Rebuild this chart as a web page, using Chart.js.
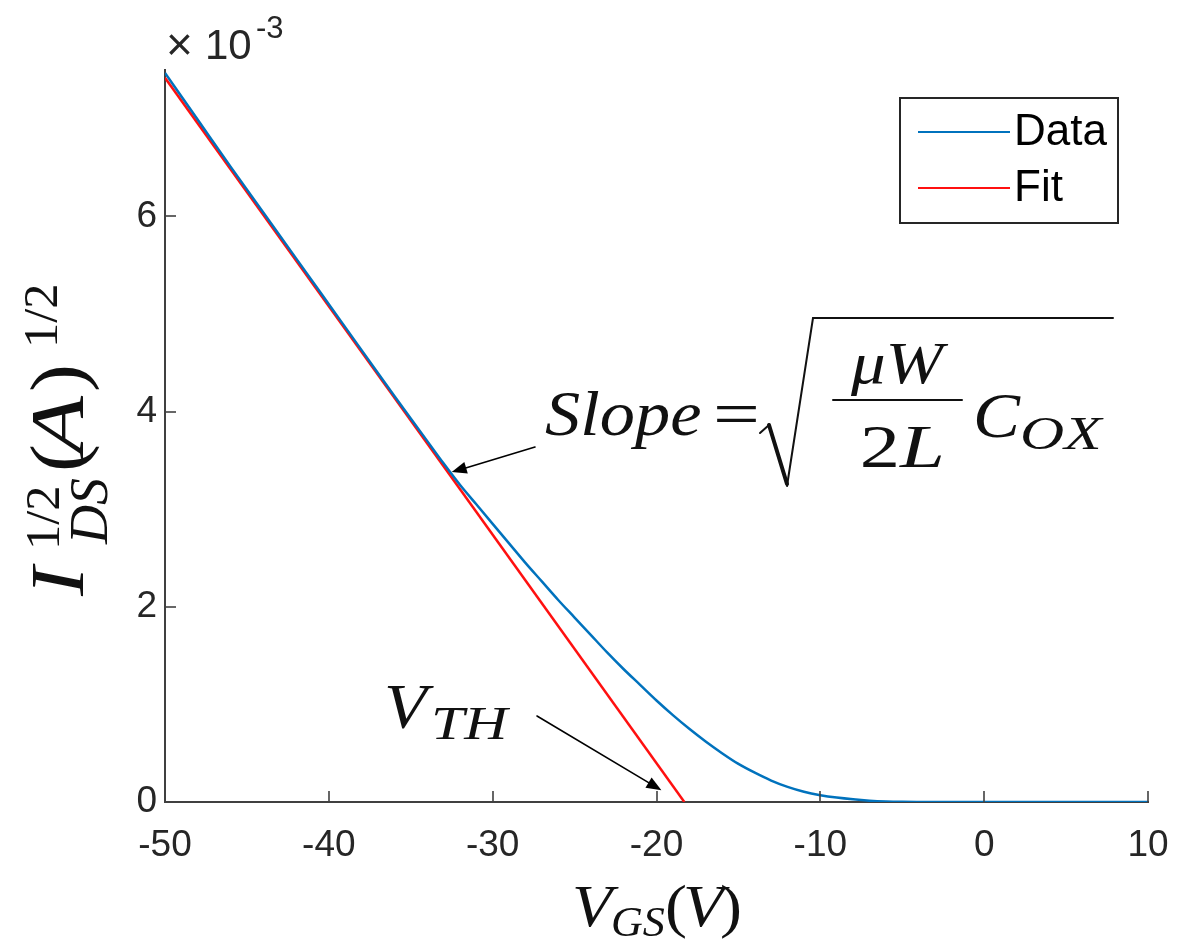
<!DOCTYPE html>
<html>
<head>
<meta charset="utf-8">
<script src="https://cdn.jsdelivr.net/npm/chart.js@4"></script>
<style>
  html, body { margin: 0; padding: 0; background: #fff; }
  #wrap { width: 1185px; height: 946px; }
</style>
</head>
<body>
<div id="wrap"><canvas id="vthChart" width="1185" height="946"></canvas></div>
<script>
// gate voltage (V) and sqrt(Ids) in units of 1e-3 A^(1/2)
const vgs = [-50, -48, -46, -44, -42, -40, -38, -36, -35, -34, -33, -32, -31, -30, -29, -28, -27, -26, -25,
  -24, -23, -22, -21, -20, -19, -18, -17, -16, -15, -14, -13, -12, -11, -10, -9, -8, -7, -6, -5, -4, -3, 0, 5, 10];
const sqrtIds = [7.47, 6.99, 6.51, 6.04, 5.57, 5.10, 4.63, 4.16, 3.93, 3.70, 3.47, 3.25, 3.05, 2.85, 2.65, 2.45, 2.26, 2.07, 1.89,
  1.71, 1.53, 1.36, 1.20, 1.04, 0.89, 0.75, 0.62, 0.50, 0.39, 0.30, 0.22, 0.155, 0.105, 0.07, 0.045, 0.027, 0.014, 0.006, 0.002, 0.0005, 0, 0, 0, 0];

// linear fit of the saturation region
const fitV = [-50, -18.3];
const fitI = [7.42, 0];

const xTicks = [-50, -40, -30, -20, -10, 0, 10];
const yTicks = [0, 2, 4, 6];

const blue = '#0072BD';
const red = '#FF1010';
const axisColor = '#404040';
const textColor = '#262626';
const mathFont = '"Liberation Serif", "Times New Roman", serif';
const sansFont = '"Liberation Sans", Arial, sans-serif';

const toPts = (xs, ys) => xs.map((x, i) => ({ x: x, y: ys[i] }));

// one piece of latex-ish text, stretched a bit to look like computer modern
function mtext(ctx, t, x, y, size, o) {
  o = o || {};
  ctx.save();
  ctx.translate(x, y);
  ctx.scale(o.sx || 1, 1);
  ctx.font = (o.italic ? 'italic ' : '') + size + 'px ' + mathFont;
  ctx.textAlign = o.align || 'left';
  ctx.textBaseline = 'alphabetic';
  ctx.fillText(t, 0, 0);
  ctx.restore();
}

function arrow(ctx, x0, y0, x1, y1) {
  const ang = Math.atan2(y1 - y0, x1 - x0);
  const len = 15, half = 6;
  const c = Math.cos(ang), s = Math.sin(ang);
  ctx.save();
  ctx.strokeStyle = '#000';
  ctx.fillStyle = '#000';
  ctx.lineWidth = 1.6;
  ctx.beginPath();
  ctx.moveTo(x0, y0);
  ctx.lineTo(x1 - c * len * 0.8, y1 - s * len * 0.8);
  ctx.stroke();
  ctx.beginPath();
  ctx.moveTo(x1, y1);
  ctx.lineTo(x1 - c * len + s * half, y1 - s * len - c * half);
  ctx.lineTo(x1 - c * len - s * half, y1 - s * len + c * half);
  ctx.closePath();
  ctx.fill();
  ctx.restore();
}

const decorations = {
  id: 'decorations',
  afterDraw(chart) {
    const { ctx, chartArea: area, scales: { x, y } } = chart;
    ctx.save();

    // inward tick marks (matlab style)
    ctx.strokeStyle = axisColor;
    ctx.lineWidth = 1.6;
    xTicks.forEach(v => {
      const px = Math.round(x.getPixelForValue(v));
      ctx.beginPath();
      ctx.moveTo(px, area.bottom);
      ctx.lineTo(px, area.bottom - 11);
      ctx.stroke();
    });
    yTicks.forEach(v => {
      const py = Math.round(y.getPixelForValue(v));
      ctx.beginPath();
      ctx.moveTo(area.left, py);
      ctx.lineTo(area.left + 11, py);
      ctx.stroke();
    });

    // exponent label
    ctx.fillStyle = textColor;
    ctx.textBaseline = 'alphabetic';
    ctx.textAlign = 'left';
    ctx.font = '46px ' + sansFont;
    ctx.fillText('\u00D7', 166, 60);
    ctx.font = '42px ' + sansFont;
    ctx.fillText('10', 205, 59);
    ctx.font = '31px ' + sansFont;
    ctx.fillText('-3', 256, 38);

    // legend
    const lg = { x: 900, y: 98, w: 218, h: 125 };
    ctx.fillStyle = '#fff';
    ctx.fillRect(lg.x, lg.y, lg.w, lg.h);
    ctx.strokeStyle = textColor;
    ctx.lineWidth = 2;
    ctx.strokeRect(lg.x, lg.y, lg.w, lg.h);
    chart.data.datasets.forEach((ds, i) => {
      const cy = 132 + i * 56;
      ctx.strokeStyle = ds.borderColor;
      ctx.lineWidth = 2;
      ctx.beginPath();
      ctx.moveTo(918, cy);
      ctx.lineTo(1010, cy);
      ctx.stroke();
      ctx.fillStyle = '#000';
      ctx.font = '44px ' + sansFont;
      ctx.textBaseline = 'middle';
      ctx.fillText(ds.label, 1014, cy + 1);
    });
    ctx.textBaseline = 'alphabetic';

    ctx.fillStyle = '#111';

    // x title: V_GS(V)
    mtext(ctx, 'V', 572, 926, 60, { italic: true, sx: 1.1 });
    mtext(ctx, 'GS', 611, 936, 42, { italic: true, sx: 1.05 });
    mtext(ctx, '(', 665, 926, 60, { sx: 1.1 });
    mtext(ctx, 'V', 683, 926, 60, { italic: true, sx: 1.1 });
    mtext(ctx, ')', 720, 926, 60, { sx: 1.1 });

    // y title, rotated; text frame x runs upward along the axis
    ctx.save();
    ctx.translate(83, 600);
    ctx.rotate(-Math.PI / 2);
    mtext(ctx, 'I', 4, 0, 76, { italic: true, sx: 1.15 });
    mtext(ctx, '1/2', 50, -24, 48, { sx: 1.05 });
    mtext(ctx, 'DS', 56, 24, 54, { italic: true, sx: 1.0 });
    mtext(ctx, '(', 128, 0, 76, { sx: 1.1 });
    mtext(ctx, 'A', 146, 0, 76, { italic: true, sx: 1.25 });
    mtext(ctx, ')', 208, 0, 76, { sx: 1.1 });
    mtext(ctx, '1/2', 252, -26, 48, { sx: 1.05 });
    ctx.restore();

    // slope annotation
    mtext(ctx, 'Slope', 545, 435, 64, { italic: true, sx: 1.1 });
    mtext(ctx, '=', 713, 435, 64, { sx: 1.3 });
    // radical sign
    ctx.strokeStyle = '#111';
    ctx.lineCap = 'round';
    ctx.lineWidth = 2;
    ctx.beginPath();
    ctx.moveTo(760, 433);
    ctx.lineTo(769, 425);
    ctx.stroke();
    ctx.lineWidth = 4;
    ctx.beginPath();
    ctx.moveTo(769, 425);
    ctx.lineTo(787, 484);
    ctx.stroke();
    ctx.lineWidth = 2;
    ctx.beginPath();
    ctx.moveTo(787, 486);
    ctx.lineTo(813, 318);
    ctx.lineTo(1113, 318);
    ctx.stroke();
    // fraction
    ctx.beginPath();
    ctx.moveTo(833, 400);
    ctx.lineTo(962, 400);
    ctx.stroke();
    mtext(ctx, '\u03BCW', 897, 383, 60, { italic: true, sx: 1.15, align: 'center' });
    ctx.save();
    ctx.translate(900, 467);
    ctx.scale(1.3, 1);
    ctx.textBaseline = 'alphabetic';
    ctx.font = '62px ' + mathFont;
    ctx.textAlign = 'right';
    ctx.fillText('2', 0, 0);
    ctx.font = 'italic 62px ' + mathFont;
    ctx.textAlign = 'left';
    ctx.fillText('L', 0, 0);
    ctx.restore();
    mtext(ctx, 'C', 973, 437, 64, { italic: true, sx: 1.1 });
    mtext(ctx, 'OX', 1020, 449, 46, { italic: true, sx: 1.33 });
    arrow(ctx, 535, 447, x.getPixelForValue(-32.5), y.getPixelForValue(3.38));

    // threshold annotation
    mtext(ctx, 'V', 384, 728, 64, { italic: true, sx: 1.1 });
    mtext(ctx, 'TH', 431, 739, 46, { italic: true, sx: 1.3 });
    arrow(ctx, 537, 716, x.getPixelForValue(-19.7), y.getPixelForValue(0.12));

    ctx.restore();
  }
};

const ctx = document.getElementById('vthChart').getContext('2d');

new Chart(ctx, {
  type: 'scatter',
  data: {
    datasets: [
      {
        label: 'Data',
        data: toPts(vgs, sqrtIds),
        showLine: true,
        borderColor: blue,
        borderWidth: 2.5,
        pointRadius: 0,
        cubicInterpolationMode: 'monotone'
      },
      {
        label: 'Fit',
        data: toPts(fitV, fitI),
        showLine: true,
        borderColor: red,
        borderWidth: 2.5,
        pointRadius: 0
      }
    ]
  },
  options: {
    responsive: false,
    animation: false,
    layout: { padding: { top: 70, right: 37, left: 0, bottom: 0 } },
    plugins: {
      legend: { display: false },
      tooltip: { enabled: false }
    },
    scales: {
      x: {
        type: 'linear',
        min: -50,
        max: 10,
        afterFit: s => { s.height = 144; s.paddingLeft = 0; s.paddingRight = 0; },
        afterBuildTicks: s => { s.ticks = xTicks.map(v => ({ value: v })); },
        ticks: {
          color: textColor,
          font: { family: sansFont, size: 37 },
          padding: 22,
          maxRotation: 0
        },
        grid: { display: false, drawTicks: false },
        border: { display: true, color: axisColor, width: 2 }
      },
      y: {
        type: 'linear',
        min: 0,
        max: 7.5,
        afterFit: s => { s.width = 165; s.paddingTop = 0; s.paddingBottom = 0; },
        afterBuildTicks: s => { s.ticks = yTicks.map(v => ({ value: v })); },
        ticks: {
          color: textColor,
          font: { family: sansFont, size: 37 },
          padding: 8
        },
        grid: { display: false, drawTicks: false },
        border: { display: true, color: axisColor, width: 2 }
      }
    }
  },
  plugins: [decorations]
});
</script>
</body>
</html>
